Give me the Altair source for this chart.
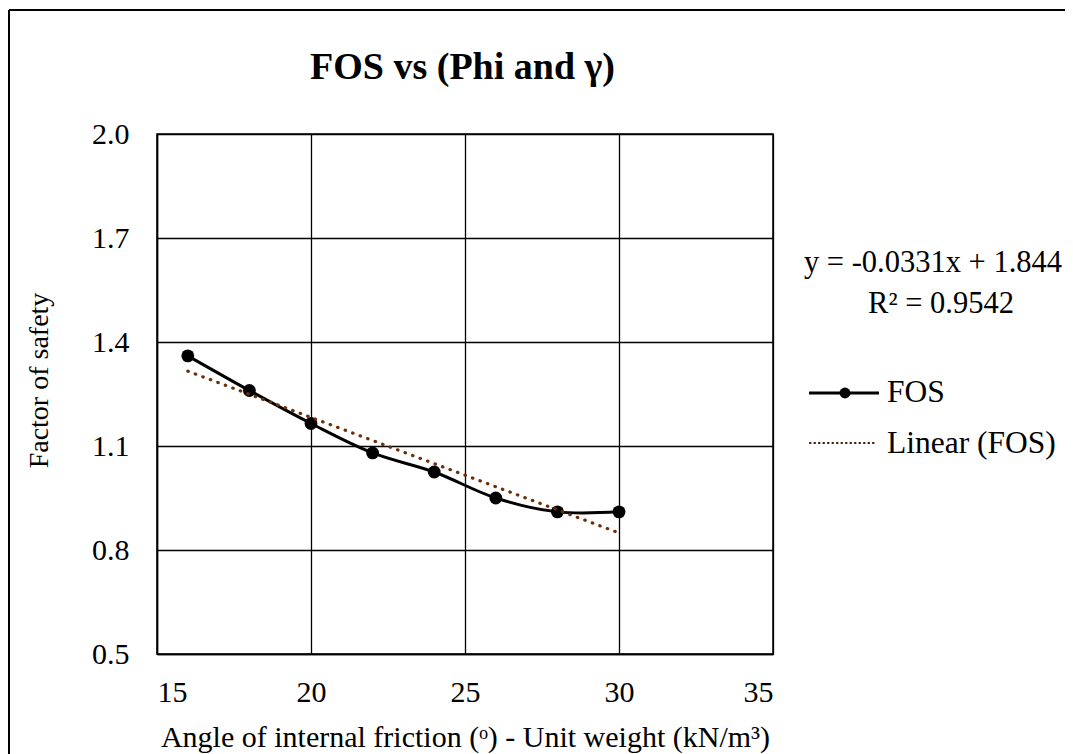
import altair as alt
import pandas as pd

# ---- data ----
phi = [16, 18, 20, 22, 24, 26, 28, 30]
fos = [1.36, 1.26, 1.165, 1.08, 1.025, 0.95, 0.91, 0.91]
x_ticks = [15, 20, 25, 30, 35]
y_ticks = [0.5, 0.8, 1.1, 1.4, 1.7, 2.0]
title_text = ["FOS vs (Phi and γ)"]
x_title = "Angle of internal friction (ᵒ) - Unit weight (kN/m³)"
y_title = "Factor of safety"
series_names = ["FOS", "Linear (FOS)"]
eq_lines = ["y = -0.0331x + 1.844", "R² = 0.9542"]

FONT = "Liberation Serif"
TREND_COLOR = "#6b3009"

df = pd.DataFrame({"phi": phi, "fos": fos})

x_enc = alt.X(
    "phi:Q",
    scale=alt.Scale(domain=[15, 35], nice=False, zero=False),
    axis=alt.Axis(values=x_ticks, title=x_title, labelPadding=23, titlePadding=15,
                  titleFontSize=30),
)
y_enc = alt.Y(
    "fos:Q",
    scale=alt.Scale(domain=[0.5, 2.0], nice=False, zero=False),
    axis=alt.Axis(values=y_ticks, format=".1f", title=y_title, labelPadding=28,
                  titleFontSize=28, titleX=-104, titleY=246, titleBaseline="bottom"),
)

base = alt.Chart(df)

line = base.mark_line(color="black", strokeWidth=3, interpolate="catmull-rom").encode(x=x_enc, y=y_enc)
points = base.mark_circle(size=165, color="black", opacity=1).encode(x=x_enc, y=y_enc)
trend = (
    base.transform_regression("phi", "fos", method="linear")
    .mark_line(color=TREND_COLOR, strokeWidth=3.2, strokeDash=[0.5, 7.5], strokeCap="round")
    .encode(x=x_enc, y=y_enc)
)

# chart title
title_df = pd.DataFrame({"t": title_text})
title = alt.Chart(title_df).mark_text(
    font=FONT, fontSize=38, fontWeight="bold", color="black", align="center", baseline="alphabetic"
).encode(text="t:N", x=alt.value(305.5), y=alt.value(-55))

# equation annotation (Excel trendline label)
eq_df = pd.DataFrame({"t": eq_lines, "row": [0, 1]})
eq1 = alt.Chart(eq_df).transform_filter("datum.row == 0").mark_text(
    font=FONT, fontSize=30.5, color="black", align="center", baseline="alphabetic"
).encode(text="t:N", x=alt.value(776), y=alt.value(138))
eq2 = alt.Chart(eq_df).transform_filter("datum.row == 1").mark_text(
    font=FONT, fontSize=30.5, color="black", align="center", baseline="alphabetic"
).encode(text="t:N", x=alt.value(784), y=alt.value(179))

# legend
leg_df = pd.DataFrame({"name": series_names, "row": [0, 1]})
leg_fos_line = alt.Chart(leg_df).transform_filter("datum.row == 0").mark_rule(
    color="black", strokeWidth=3
).encode(x=alt.value(652), x2=alt.value(722), y=alt.value(259))
leg_fos_dot = alt.Chart(leg_df).transform_filter("datum.row == 0").mark_circle(
    color="black", size=120, opacity=1
).encode(x=alt.value(688), y=alt.value(259))
leg_fos_text = alt.Chart(leg_df).transform_filter("datum.row == 0").mark_text(
    font=FONT, fontSize=31.5, color="black", align="left", baseline="alphabetic"
).encode(text="name:N", x=alt.value(730), y=alt.value(268))
leg_lin_line = alt.Chart(leg_df).transform_filter("datum.row == 1").mark_rule(
    color="#3a1a05", strokeWidth=2.2, strokeDash=[0.5, 4], strokeCap="round"
).encode(x=alt.value(653), x2=alt.value(719), y=alt.value(309))
leg_lin_text = alt.Chart(leg_df).transform_filter("datum.row == 1").mark_text(
    font=FONT, fontSize=31.5, color="black", align="left", baseline="alphabetic"
).encode(text="name:N", x=alt.value(730), y=alt.value(319))

# outer chart-area frame (top and left edges; right/bottom lie outside the picture)
frame_top = alt.Chart(leg_df).transform_filter("datum.row == 0").mark_rule(
    color="black", strokeWidth=2
).encode(x=alt.value(-148), x2=alt.value(1300), y=alt.value(-124))
frame_left = alt.Chart(leg_df).transform_filter("datum.row == 0").mark_rule(
    color="black", strokeWidth=2
).encode(x=alt.value(-148), y=alt.value(-124), y2=alt.value(900))

chart = (
    alt.layer(
        frame_top, frame_left, line, points, trend, title, eq1, eq2,
        leg_fos_line, leg_fos_dot, leg_fos_text, leg_lin_line, leg_lin_text,
    )
    .properties(
        width=616,
        height=520,
        background="white",
        autosize=alt.AutoSizeParams(type="none"),
        padding={"left": 149, "top": 126, "right": 292, "bottom": 100},
    )
    .configure_axis(
        grid=True, gridColor="black", gridWidth=1.3, gridOpacity=1,
        domainColor="black", domainWidth=1.5, ticks=False,
        labelFont=FONT, labelFontSize=30, labelColor="black",
        titleFont=FONT, titleFontWeight="normal", titleColor="black",
    )
    .configure_view(stroke="black", strokeWidth=1.5)
)

chart.save("out.html", embed_options={"renderer": "svg", "actions": False})
